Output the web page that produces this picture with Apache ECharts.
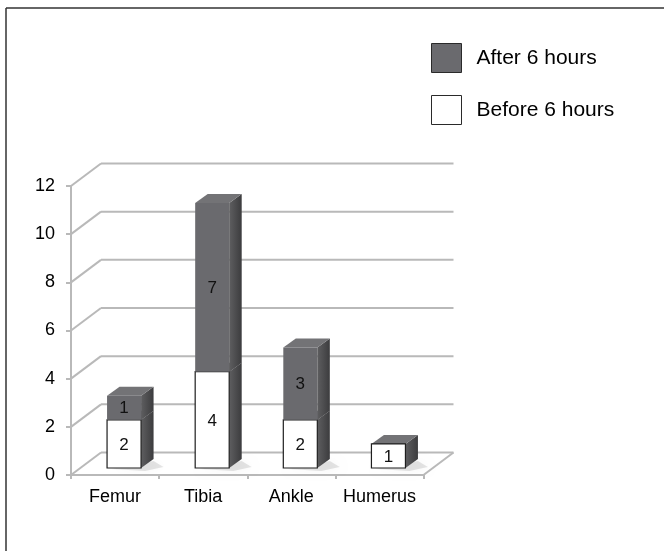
<!DOCTYPE html>
<html>
<head>
<meta charset="utf-8">
<script src="https://cdn.jsdelivr.net/npm/echarts@6/dist/echarts.min.js"></script>
<style>
html,body{margin:0;padding:0;background:#fff;}
#chart{width:664px;height:551px;}
</style>
</head>
<body>
<div id="chart"></div>
<script>
const categories = ['Femur', 'Tibia', 'Ankle', 'Humerus'];
const beforeValues = [2, 4, 2, 1];
const afterValues = [1, 7, 3, 0];
const yTicks = [0, 2, 4, 6, 8, 10, 12];

const FONT = '"Liberation Sans", Arial, Helvetica, sans-serif';
const BACK_DX = 30, BACK_DY = -22.5;   // depth of the back wall
const MID_DX = 9, MID_DY = -7;         // bar front position in depth
const SIDE_DX = 12.5, SIDE_DY = -9;    // bar depth

const chart = echarts.init(document.getElementById('chart'), null, {renderer: 'canvas'});

function renderBackground(params, api) {
  const cs = params.coordSys;
  const v = api.value(1);
  const y = api.coord([0, v])[1];
  const xl = cs.x, xr = cs.x + cs.width;
  const lineStyle = {stroke: '#b9b9b9', lineWidth: 2};
  const children = [
    {type: 'line', shape: {x1: xl + BACK_DX, y1: y + BACK_DY, x2: xr + BACK_DX, y2: y + BACK_DY}, style: lineStyle},
    {type: 'line', shape: {x1: xl, y1: y, x2: xl + BACK_DX, y2: y + BACK_DY}, style: lineStyle}
  ];
  if (v === 0) {
    children.push({type: 'line', shape: {x1: xr, y1: y, x2: xr + BACK_DX, y2: y + BACK_DY}, style: lineStyle});
  }
  return {type: 'group', children: children};
}

function makeBarRenderer(frontColor, frontStroke) {
  return function (params, api) {
    const cat = api.value(0);
    const base = api.value(1);
    const val = api.value(2);
    if (!val) return null;
    const p0 = api.coord([cat, base]);
    const p1 = api.coord([cat, base + val]);
    const bandW = api.size([1, 0])[0];
    const w = bandW * 0.386;
    const cx = p0[0] + MID_DX;
    const yb = p0[1] + MID_DY;
    const yt = p1[1] + MID_DY;
    const x0 = cx - w / 2, x1 = cx + w / 2;
    const sideGrad = new echarts.graphic.LinearGradient(0, 0, 1, 0, [
      {offset: 0, color: '#5e5e60'},
      {offset: 1, color: '#3c3c3e'}
    ]);
    const children = [];
    if (base === 0) {
      children.push({
        type: 'polygon',
        shape: {points: [[x0 + 4, yb + 1], [x1 + SIDE_DX, yb + SIDE_DY + 2], [x1 + SIDE_DX + 10, yb - 1], [x1 + 4, yb + 3]]},
        style: {fill: 'rgba(0,0,0,0.10)', shadowBlur: 8, shadowColor: 'rgba(0,0,0,0.35)'},
        silent: true
      });
    }
    children.push(
      {
        type: 'polygon',
        shape: {points: [[x1, yb], [x1 + SIDE_DX, yb + SIDE_DY], [x1 + SIDE_DX, yt + SIDE_DY], [x1, yt]]},
        style: {fill: sideGrad}
      },
      {
        type: 'polygon',
        shape: {points: [[x0, yt], [x0 + SIDE_DX, yt + SIDE_DY], [x1 + SIDE_DX, yt + SIDE_DY], [x1, yt]]},
        style: {fill: '#737376'}
      },
      {
        type: 'rect',
        shape: {x: x0, y: yt, width: w, height: yb - yt},
        style: {fill: frontColor, stroke: frontStroke, lineWidth: frontStroke ? 1.2 : 0}
      },
      {
        type: 'text',
        style: {
          text: String(val), x: cx, y: (yt + yb) / 2 + 1,
          align: 'center', verticalAlign: 'middle',
          font: '17px ' + FONT, fill: '#111'
        }
      }
    );
    return {type: 'group', children: children};
  };
}

const beforeData = categories.map((c, i) => [i, 0, beforeValues[i]]);
const afterData = categories.map((c, i) => [i, beforeValues[i], afterValues[i]]);

const option = {
  animation: false,
  backgroundColor: '#fff',
  grid: {left: 71, right: 240.5, top: 186, bottom: 76, containLabel: false},
  legend: {
    orient: 'vertical',
    left: 431,
    top: 43,
    padding: 0,
    itemWidth: 30,
    itemHeight: 29,
    itemGap: 22,
    icon: 'rect',
    selectedMode: false,
    textStyle: {fontSize: 21, fontFamily: FONT, color: '#000', padding: [0, 0, 0, 10]},
    data: [
      {name: 'After 6 hours', itemStyle: {color: '#6a6a6e', borderColor: '#2a2a2a', borderWidth: 1}},
      {name: 'Before 6 hours', itemStyle: {color: '#ffffff', borderColor: '#2a2a2a', borderWidth: 1}}
    ]
  },
  xAxis: {
    type: 'category',
    data: categories,
    axisLine: {show: true, lineStyle: {color: '#b9b9b9', width: 2}},
    axisTick: {show: true, length: 4, lineStyle: {color: '#b9b9b9', width: 2}},
    axisLabel: {interval: 0, fontSize: 18, fontFamily: FONT, color: '#000', margin: 13},
    splitLine: {show: false}
  },
  yAxis: {
    type: 'value',
    min: 0,
    max: 12,
    interval: 2,
    axisLine: {show: true, lineStyle: {color: '#b9b9b9', width: 2}},
    axisTick: {show: true, length: 5, lineStyle: {color: '#b9b9b9', width: 2}},
    axisLabel: {fontSize: 18, fontFamily: FONT, color: '#000', margin: 16},
    splitLine: {show: false}
  },
  graphic: [
    {type: 'line', shape: {x1: 6, y1: 8, x2: 664, y2: 8}, style: {stroke: '#333', lineWidth: 1.5}, z: 100},
    {type: 'line', shape: {x1: 6, y1: 8, x2: 6, y2: 551}, style: {stroke: '#333', lineWidth: 1.5}, z: 100}
  ],
  series: [
    {
      type: 'custom',
      name: 'grid3d',
      renderItem: renderBackground,
      data: yTicks.map(v => [0, v]),
      encode: {x: 0, y: 1},
      silent: true,
      z: 1
    },
    {
      type: 'custom',
      name: 'Before 6 hours',
      renderItem: makeBarRenderer('#ffffff', '#1e1e1e'),
      data: beforeData,
      encode: {x: 0, y: [1, 2]},
      itemStyle: {color: '#ffffff', borderColor: '#2a2a2a', borderWidth: 1},
      z: 2
    },
    {
      type: 'custom',
      name: 'After 6 hours',
      renderItem: makeBarRenderer('#6a6a6e', null),
      data: afterData,
      encode: {x: 0, y: [1, 2]},
      itemStyle: {color: '#6a6a6e', borderColor: '#2a2a2a', borderWidth: 1},
      z: 3
    }
  ]
};

chart.setOption(option);
</script>
</body>
</html>
